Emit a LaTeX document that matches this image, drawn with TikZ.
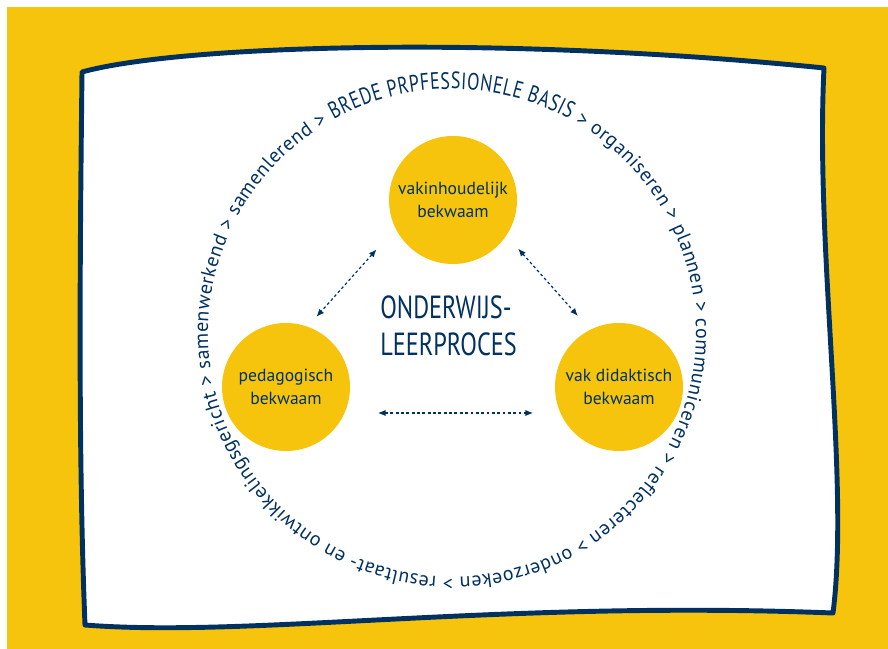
\documentclass[tikz,border=0pt]{standalone}
\usepackage{fontspec}
\newfontfamily\handfont{PT Sans}
\newfontfamily\narrowfont{PT Sans}[FakeStretch=0.76]
\newcommand\ringfont{\handfont\fontsize{14.2}{18}\selectfont}
\newcommand\capsfont{\narrowfont\fontsize{16.8}{18}\selectfont}
\usetikzlibrary{arrows.meta,calc,decorations.text}
\definecolor{navy}{RGB}{0,49,96}
\definecolor{sunny}{RGB}{246,196,12}

\begin{document}
\begin{tikzpicture}[
  bubble/.style={circle, fill=sunny, minimum size=3.2cm, inner sep=0pt, align=center, text=navy, font=\handfont\fontsize{12.5}{16.5}\selectfont},
  link/.style={navy, line width=0.85pt, dash pattern=on 2pt off 1.8pt, {Latex[length=5.5pt,width=4.5pt]}-{Latex[length=5.5pt,width=4.5pt]}}]

% background
\useasboundingbox (0,0) rectangle (22.2,16.225);
\fill[sunny] (0.175,0) rectangle (22.2,16.05);

% sheet
\filldraw[fill=white, draw=navy, line width=3.5pt, line join=round]
  (2.05,14.425) .. controls (4.5,15.1) and (12.5,15.35) .. (20.6,14.525)
  .. controls (20.375,9.975) and (21.25,4.225) .. (20.825,0.9)
  .. controls (12.5,1.225) and (6.25,0.275) .. (2.125,0.6)
  .. controls (1.95,4.975) and (2,9.975) .. cycle;

% circles
\path (11.325,11.225) node[bubble] (vak) {vakinhoudelijk\\bekwaam};
\path (7.15,6.55) node[bubble] (ped) {pedagogisch\\bekwaam};
\path (15.475,6.55) node[bubble] (did) {vak didaktisch\\bekwaam};

% title
\path (9.5,8.85) node[anchor=north west, inner sep=0pt, align=left, text=navy, font=\narrowfont\fontsize{22.75}{26.3}\selectfont] (proces) {ONDERWIJS-\\LEERPROCES};

% arrows
\draw[link] ($(vak)!0.35!(ped) + (-0.45,0.4)$) -- ($(vak)!0.71!(ped) + (-0.45,0.4)$);
\draw[link] ($(vak)!0.32!(did) + (0.3,0.28)$) -- ($(vak)!0.68!(did) + (0.3,0.28)$);
\draw[link] ($(ped)!0.276!(did) + (0,-0.65)$) -- ($(ped)!0.742!(did) + (0,-0.65)$);

% ring of words
\coordinate (hub) at (11.3,7.9);
\path[decorate, decoration={text along path, text color=navy, text align={fit to path},
  text={|\capsfont|BREDE PRPFESSIONELE BASIS|\ringfont| > organiseren > plannen > communiceren > reflecteren > onderzoeken > resultaat- en ontwikkelingsgericht > samenwerkend > samenlerend >}}]
  (hub) ++(119:6.1) arc[start angle=119, end angle=-239.3, radius=6.1];

\end{tikzpicture}
\end{document}
